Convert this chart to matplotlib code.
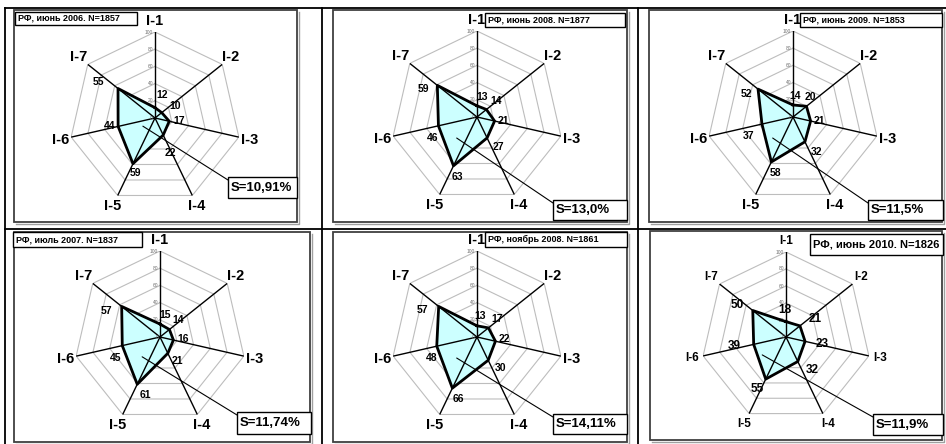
import numpy as np
import matplotlib.pyplot as plt
from matplotlib.patches import Rectangle

plt.rcParams['font.family'] = ['Liberation Sans', 'DejaVu Sans']

# Data
axis_labels = ["I-1", "I-2", "I-3", "I-4", "I-5", "I-6", "I-7"]
titles = ["РФ, июнь 2006. N=1857", "РФ, июнь 2008. N=1877", "РФ, июнь 2009. N=1853",
          "РФ, июль 2007. N=1837", "РФ, ноябрь 2008. N=1861", "РФ, июнь 2010. N=1826"]
jun2006 = [12, 10, 17, 22, 59, 44, 55]
jun2008 = [13, 14, 21, 27, 63, 46, 59]
jun2009 = [14, 20, 21, 32, 58, 37, 52]
jul2007 = [15, 14, 16, 21, 61, 45, 57]
nov2008 = [13, 17, 22, 30, 66, 48, 57]
jun2010 = [18, 21, 23, 32, 55, 39, 50]
series = [jun2006, jun2008, jun2009, jul2007, nov2008, jun2010]
s_labels = ["S=10,91%", "S=13,0%", "S=11,5%", "S=11,74%", "S=14,11%", "S=11,9%"]
ring_levels = [0, 20, 40, 60, 80, 100]

# Layout (pixels, image coords with y down)
W, H = 946, 444
centers = [(155, 118), (477, 117), (793, 117), (160, 337), (477, 337), (786, 337)]
radii = [86, 86, 86, 86, 86, 85]
frames = [(14, 10, 297, 222), (333, 10, 627, 222), (649, 10, 942, 222),
          (14, 232, 310, 442), (333, 232, 627, 442), (650, 231, 942, 440)]
title_boxes = [(15, 12, 137, 25), (485, 13, 625, 27), (800, 13, 942, 27),
               (13, 232, 142, 247), (485, 232, 627, 247), (810, 234, 943, 255)]
s_boxes = [(228, 177, 297, 198), (553, 200, 627, 220), (868, 200, 943, 220),
           (237, 412, 311, 434), (553, 414, 627, 434), (873, 414, 943, 435)]
callouts = [(236, 17), (224, 34), (224, 34), (222, 31), (224, 34), (233, 35)]
label_offsets = [
    [(7, -13), (13, -7), (10, 0), (7, 18), (2, 9), (-8, 0), (-20, -7)],
    [(5, -9), (10, -8), (9, 0), (11, 9), (4, 11), (-6, 12), (-14, 4)],
    [(2, -9), (4, -9), (9, 0), (12, 10), (4, 11), (-13, 12), (-12, 5)],
    [(5, -9), (9, -9), (10, -1), (10, 8), (8, 11), (-7, 12), (-15, 5)],
    [(3, -10), (9, -9), (9, -2), (12, 8), (6, 11), (-5, 12), (-16, 4)],
    [(-1, -12), (15, -7), (17, 3), (14, 8), (-8, 10), (-19, 2), (-16, -6)],
]

fig = plt.figure(figsize=(W / 100, H / 100), dpi=100)

# background: table lines and chart frames
bg = fig.add_axes([0, 0, 1, 1])
bg.set_xlim(0, W)
bg.set_ylim(H, 0)
bg.axis('off')
for y in [8, 229]:
    bg.plot([5, W], [y, y], color='black', lw=1.3)
for x in [5, 322, 638]:
    bg.plot([x, x], [8, H], color='black', lw=1.3)
for (x0, y0, x1, y1) in frames:
    # faint shadow on the right and bottom edges
    bg.plot([x1 + 1.5, x1 + 1.5, x0 + 2], [y0 + 2, y1 + 1.5, y1 + 1.5],
            color='#a0a0a0', lw=1.0)
    bg.add_patch(Rectangle((x0, y0), x1 - x0, y1 - y0, fill=False,
                           edgecolor='#404040', lw=1.3))

angles = np.linspace(0, 2 * np.pi, len(axis_labels), endpoint=False)
closed = np.append(angles, angles[0])

for i, vals in enumerate(series):
    cx, cy = centers[i]
    R = radii[i]
    big = i == 5
    ax = fig.add_axes([(cx - R) / W, 1 - (cy + R) / H, 2 * R / W, 2 * R / H],
                      projection='polar')
    ax.set_theta_zero_location('N')
    ax.set_theta_direction(-1)
    ax.set_ylim(0, 100)
    ax.axis('off')

    for lev in ring_levels[1:]:
        ax.plot(closed, [lev] * len(closed), color='#bdbdbd', lw=0.8, zorder=1)
    v = np.append(vals, vals[0])
    ax.fill(closed, v, color='#ccffff', zorder=2)
    for a in angles:
        ax.plot([a, a], [0, 100], color='black', lw=1.0, zorder=3)
    ax.plot(closed, v, color='black', lw=2.0, zorder=4)

    for lev in ring_levels:
        ax.annotate(str(lev), xy=(0, lev), xytext=(-2, 0), textcoords='offset pixels',
                    ha='right', va='center', fontsize=3.5, color='#707070')

    for k, lab in enumerate(axis_labels):
        ax.text(angles[k], 113, lab, ha='center', va='center',
                fontsize=8.5 if big else 10.5, fontweight='bold')
        dx, dy = label_offsets[i][k]
        ax.annotate(str(vals[k]), xy=(angles[k], vals[k]), xytext=(dx, -dy),
                    textcoords='offset pixels', ha='center', va='center',
                    fontsize=8.5 if big else 7.5, fontweight='bold', zorder=5)

    th, rr = callouts[i]
    sx0, sy0, sx1, sy1 = s_boxes[i]
    ax.annotate("", xy=(np.radians(th), rr), xytext=(sx0, H - sy0 - 3),
                textcoords='figure pixels',
                arrowprops=dict(arrowstyle='-', color='black', lw=0.8,
                                shrinkA=0, shrinkB=0))

# overlay: title boxes and S boxes
top = fig.add_axes([0, 0, 1, 1])
top.set_xlim(0, W)
top.set_ylim(H, 0)
top.axis('off')
for i in range(6):
    x0, y0, x1, y1 = title_boxes[i]
    top.add_patch(Rectangle((x0, y0), x1 - x0, y1 - y0, facecolor='white',
                            edgecolor='black', lw=1.0))
    top.text(x0 + 3, (y0 + y1) / 2, titles[i], ha='left', va='center',
             fontsize=8 if i == 5 else 6.5, fontweight='bold')
    x0, y0, x1, y1 = s_boxes[i]
    top.add_patch(Rectangle((x0, y0), x1 - x0, y1 - y0, facecolor='white',
                            edgecolor='black', lw=1.0))
    top.text(x0 + 3, (y0 + y1) / 2, s_labels[i], ha='left', va='center',
             fontsize=9.5, fontweight='bold')

fig.savefig('out.png', dpi=100)
